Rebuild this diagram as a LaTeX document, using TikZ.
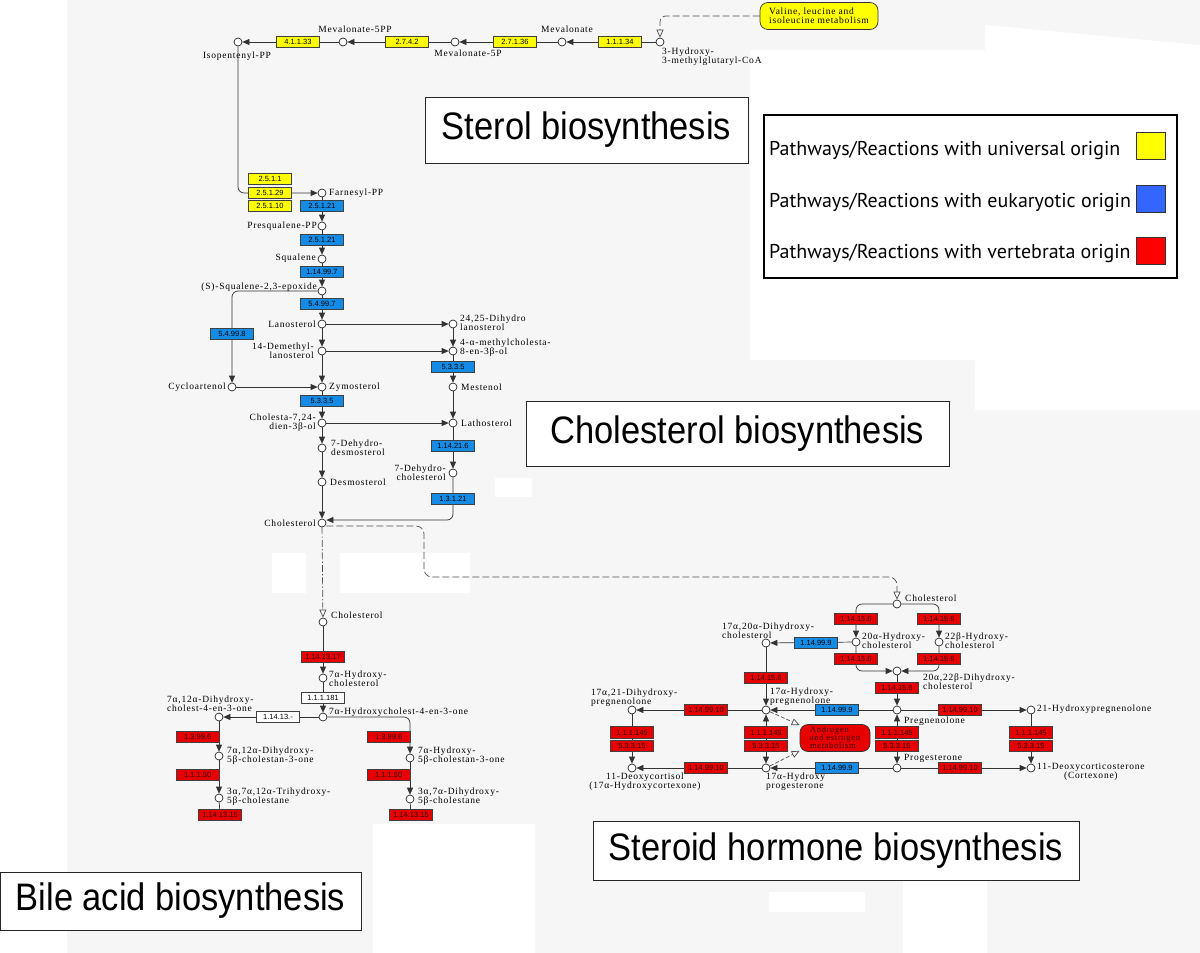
\documentclass[tikz,border=0pt]{standalone}
\usepackage{fontspec}
\setmainfont{Liberation Serif}
\newfontfamily\keggfamily[LetterSpace=8]{Liberation Serif}
\newfontfamily\enzfamily{Liberation Sans}
\newfontfamily\titlefamily[FakeStretch=0.9]{Liberation Sans}
\newfontfamily\legendfamily{PT Sans}
\usetikzlibrary{arrows.meta,backgrounds}

\definecolor{canvas}{RGB}{246,246,246}
\definecolor{univ}{RGB}{255,255,0}
\definecolor{eukbox}{RGB}{20,140,230}
\definecolor{vertred}{RGB}{230,0,0}
\definecolor{eukswatch}{RGB}{51,102,255}
\definecolor{vertswatch}{RGB}{255,0,0}

\newcommand{\keggsize}{\keggfamily\fontsize{9.5}{9}\selectfont}
\newcommand{\enzsize}{\enzfamily\fontsize{7.5}{8}\selectfont}

\tikzset{
  cpd/.style={circle, draw=black!85, fill=white, line width=0.7pt, inner sep=0pt, minimum size=8pt},
  enz/.style={rectangle, draw=black!75, line width=0.6pt, inner sep=0pt,
    minimum width=43pt, minimum height=11.5pt, font=\enzsize},
  uni/.style={enz, fill=univ},
  euk/.style={enz, fill=eukbox},
  vert/.style={enz, fill=vertred, text=black!80!red},
  unk/.style={enz, fill=white},
  lbl/.style={font=\keggsize, inner sep=0pt, align=left},
  rx/.style={draw=black!80, line width=0.7pt, -{Triangle[length=7pt,width=6pt]}},
  rxtwo/.style={rx, {Triangle[length=7pt,width=6pt]}-{Triangle[length=7pt,width=6pt]}},
  plain/.style={draw=black!80, line width=0.7pt},
  maplink/.style={draw=black!70, line width=0.7pt, dash pattern=on 7pt off 3pt,
    -{Triangle[open,length=8pt,width=7pt]}},
  mapbox/.style={rectangle, rounded corners=8pt, draw=black!80, line width=0.7pt,
    align=left, inner sep=2pt},
  ttl/.style={rectangle, draw=black!85, line width=0.9pt, fill=white, inner sep=0pt,
    font=\titlefamily\fontsize{38.3}{40}\selectfont},
  lgd/.style={font=\legendfamily\fontsize{20}{22}\selectfont, inner sep=0pt},
  swatch/.style={rectangle, draw=black!80, line width=0.8pt, minimum width=29pt, minimum height=27pt}
}

\begin{document}
\begin{tikzpicture}[x=1pt,y=-1pt]
\useasboundingbox (0,0) rectangle (1200,953);
\begin{scope}[on background layer]
  \fill[white] (0,0) rectangle (1200,953);
  \fill[canvas] (67,0) rectangle (1200,953);
  \fill[white] (750,50) -- (985,50) -- (985,25) -- (1200,45) -- (1200,410)
    -- (975,410) -- (975,360) -- (750,360) -- cycle;
  \fill[white] (373,824) rectangle (535,953);
  \fill[white] (903,881) rectangle (987,953);
  \fill[white] (769,892) rectangle (865,912);
  \fill[white] (272,553) rectangle (306,593);
  \fill[white] (340,553) rectangle (470,593);
  \fill[white] (495,478) rectangle (532,497);
\end{scope}

% mevalonate row
\node[cpd] (ipp) at (238,42) {};
\node[cpd] (mvpp) at (343,42) {};
\node[cpd] (mvp) at (455,42) {};
\node[cpd] (mev) at (562,42) {};
\node[cpd] (hmg) at (660,42) {};
\node[uni] (e41133) at (298,42) {4.1.1.33};
\node[uni] (e2742) at (407,42) {2.7.4.2};
\node[uni] (e27136) at (515,42) {2.7.1.36};
\node[uni] (e11134) at (620,42) {1.1.1.34};
\node[lbl] (ippl) at (237,56) {Isopentenyl-PP};
\node[lbl] (mvppl) at (355,29) {Mevalonate-5PP};
\node[lbl] (mvpl) at (468,53) {Mevalonate-5P};
\node[lbl] (mevl) at (567,29) {Mevalonate};
\node[lbl, anchor=north west] (hmgl) at (662,48) {3-Hydroxy-\\3-methylglutaryl-CoA};
\node[mapbox, fill=univ, font=\keggsize, minimum width=118pt, minimum height=27pt] (val) at (819,16)
  {Valine, leucine and\\isoleucine metabolism};

% sterol / cholesterol
\node[cpd] (far) at (322,193) {};
\node[cpd] (presq) at (322,226) {};
\node[cpd] (squal) at (322,259) {};
\node[cpd] (epox) at (322,291) {};
\node[cpd] (lano) at (322,324) {};
\node[cpd] (dml) at (322,351) {};
\node[cpd] (zym) at (322,387) {};
\node[cpd] (c724) at (322,423) {};
\node[cpd] (dhd7) at (322,448) {};
\node[cpd] (desmo) at (322,482) {};
\node[cpd] (chol) at (322,523) {};
\node[cpd] (cyc) at (232,387) {};
\node[cpd] (dhl) at (453,324) {};
\node[cpd] (mch) at (453,351) {};
\node[cpd] (mest) at (453,387) {};
\node[cpd] (lath) at (453,423) {};
\node[cpd] (dhc7) at (453,473) {};

\node[uni] (e2511) at (270,179) {2.5.1.1};
\node[uni] (e25129) at (270,193) {2.5.1.29};
\node[uni] (e25110) at (270,206) {2.5.1.10};
\node[euk] (e25121a) at (322,206) {2.5.1.21};
\node[euk] (e25121b) at (322,240) {2.5.1.21};
\node[euk] (e114997) at (322,272) {1.14.99.7};
\node[euk] (e54997) at (322,304) {5.4.99.7};
\node[euk] (e54998) at (232,334) {5.4.99.8};
\node[euk] (e5335a) at (322,401) {5.3.3.5};
\node[euk] (e5335b) at (453,367) {5.3.3.5};
\node[euk] (e114216) at (453,446) {1.14.21.6};
\node[euk] (e13121) at (453,499) {1.3.1.21};

\node[lbl, anchor=west] (farl) at (329,193) {Farnesyl-PP};
\node[lbl, anchor=east] (presql) at (317,226) {Presqualene-PP};
\node[lbl, anchor=east] (squall) at (316,258) {Squalene};
\node[lbl, anchor=east] (epoxl) at (317,287) {(S)-Squalene-2,3-epoxide};
\node[lbl, anchor=east] (lanol) at (316,324) {Lanosterol};
\node[lbl, anchor=east, align=right] (dmll) at (314,351) {14-Demethyl-\\lanosterol};
\node[lbl, anchor=west] (zyml) at (329,387) {Zymosterol};
\node[lbl, anchor=east] (cycl) at (226,387) {Cycloartenol};
\node[lbl, anchor=east, align=right] (c724l) at (316,423) {Cholesta-7,24-\\dien-3β-ol};
\node[lbl, anchor=west] (dhd7l) at (331,448) {7-Dehydro-\\desmosterol};
\node[lbl, anchor=west] (desmol) at (330,482) {Desmosterol};
\node[lbl, anchor=east] (choll) at (316,523) {Cholesterol};
\node[lbl, anchor=west] (dhll) at (460,323) {24,25-Dihydro\\lanosterol};
\node[lbl, anchor=west] (mchl) at (460,348) {4-α-methylcholesta-\\8-en-3β-ol};
\node[lbl, anchor=west] (mestl) at (461,387) {Mestenol};
\node[lbl, anchor=west] (lathl) at (461,423) {Lathosterol};
\node[lbl, anchor=east, align=right] (dhc7l) at (446,473) {7-Dehydro-\\cholesterol};

% bile acid
\node[cpd] (cholB) at (323,622) {};
\node[cpd] (ohc7) at (323,678) {};
\node[cpd] (oh4en) at (323,717) {};
\node[cpd] (dih4en) at (219,717) {};
\node[cpd] (dihone) at (219,756) {};
\node[cpd] (trih) at (219,798) {};
\node[cpd] (ohone) at (410,758) {};
\node[cpd] (dih) at (410,799) {};
\node[vert] (e1141317) at (323,657) {1.14.13.17};
\node[unk] (e111181) at (323,698) {1.1.1.181};
\node[unk] (e11413) at (278,717) {1.14.13.-};
\node[vert, anchor=east] (e13996a) at (219.5,737) {1.3.99.6};
\node[vert, anchor=east] (e11150a) at (219.5,775) {1.1.1.50};
\node[vert] (e1141315a) at (220,815) {1.14.13.15};
\node[vert, anchor=east] (e13996b) at (410.5,737) {1.3.99.6};
\node[vert, anchor=east] (e11150b) at (410.5,775) {1.1.1.50};
\node[vert] (e1141315b) at (411,815) {1.14.13.15};

\node[lbl, anchor=west] (cholBl) at (331,615) {Cholesterol};
\node[lbl, anchor=west] (ohc7l) at (329,679) {7α-Hydroxy-\\cholesterol};
\node[lbl, anchor=west] (oh4enl) at (329,712) {7α-Hydroxycholest-4-en-3-one};
\node[lbl, anchor=west] (dih4enl) at (167,704) {7α,12α-Dihydroxy-\\cholest-4-en-3-one};
\node[lbl, anchor=west] (dihonel) at (227,756) {7α,12α-Dihydroxy-\\5β-cholestan-3-one};
\node[lbl, anchor=west] (trihl) at (227,797) {3α,7α,12α-Trihydroxy-\\5β-cholestane};
\node[lbl, anchor=west] (ohonel) at (418,756) {7α-Hydroxy-\\5β-cholestan-3-one};
\node[lbl, anchor=west] (dihl) at (418,797) {3α,7α-Dihydroxy-\\5β-cholestane};

% steroid hormone
\node[cpd] (cholC) at (897,604) {};
\node[cpd] (ohc20) at (856,642) {};
\node[cpd] (ohc22) at (939,642) {};
\node[cpd] (dhc2022) at (897,671) {};
\node[cpd] (preg) at (897,710) {};
\node[cpd] (prog) at (897,768) {};
\node[cpd] (dhc1720) at (766,643) {};
\node[cpd] (ohpreg) at (766,710) {};
\node[cpd] (ohprog) at (766,768) {};
\node[cpd] (dhp1721) at (632,710) {};
\node[cpd] (doxc) at (632,768) {};
\node[cpd] (ohp21) at (1031,710) {};
\node[cpd] (doc) at (1031,768) {};

\node[vert] (e14156a) at (856,619) {1.14.15.6};
\node[vert] (e14156b) at (939,619) {1.14.15.6};
\node[vert] (e14156c) at (856,659) {1.14.15.6};
\node[vert] (e14156d) at (939,659) {1.14.15.6};
\node[vert] (e14156e) at (897,688) {1.14.15.6};
\node[vert] (e14156f) at (766,678) {1.14.15.6};
\node[euk] (e14999a) at (816,643) {1.14.99.9};
\node[euk] (e14999b) at (837,710) {1.14.99.9};
\node[euk] (e14999c) at (837,768) {1.14.99.9};
\node[vert] (e149910a) at (706,710) {1.14.99.10};
\node[vert] (e149910b) at (706,768) {1.14.99.10};
\node[vert] (e149910c) at (960,710) {1.14.99.10};
\node[vert] (e149910d) at (960,768) {1.14.99.10};
\node[vert] (e111145a) at (632,732.5) {1.1.1.145};
\node[vert] (e53315a) at (632,746) {5.3.3.15};
\node[vert] (e111145b) at (766,732.5) {1.1.1.145};
\node[vert] (e53315b) at (766,746) {5.3.3.15};
\node[vert] (e111145c) at (897,732.5) {1.1.1.145};
\node[vert] (e53315c) at (897,746) {5.3.3.15};
\node[vert] (e111145d) at (1031,732.5) {1.1.1.145};
\node[vert] (e53315d) at (1031,746) {5.3.3.15};
\node[mapbox, fill=vertred, text=black!75!red, font=\keggfamily\fontsize{8.5}{8}\selectfont,
  minimum width=70pt, minimum height=27pt] (andro) at (835,738) {Androgen\\and estrogen\\metabolism};

\node[lbl, anchor=west] (cholCl) at (905,598) {Cholesterol};
\node[lbl, anchor=west] (ohc20l) at (862,641) {20α-Hydroxy-\\cholesterol};
\node[lbl, anchor=west] (ohc22l) at (945,641) {22β-Hydroxy-\\cholesterol};
\node[lbl, anchor=west] (dhc2022l) at (923,682) {20α,22β-Dihydroxy-\\cholesterol};
\node[lbl, anchor=west] (pregl) at (904,721) {Pregnenolone};
\node[lbl, anchor=west] (progl) at (904,758) {Progesterone};
\node[lbl, anchor=west] (ohpregl) at (770,697) {17α-Hydroxy-\\pregnenolone};
\node[lbl, anchor=west] (dhc1720l) at (722,631) {17α,20α-Dihydroxy-\\cholesterol};
\node[lbl, anchor=west] (dhp1721l) at (591,698) {17α,21-Dihydroxy-\\pregnenolone};
\node[lbl, anchor=north, align=center] (doxcl) at (645,773) {11-Deoxycortisol\\(17α-Hydroxycortexone)};
\node[lbl, anchor=north west] (ohprogl) at (766,773) {17α-Hydroxy\\progesterone};
\node[lbl, anchor=west] (ohp21l) at (1037,709) {21-Hydroxypregnenolone};
\node[lbl, anchor=west, align=center] (docl) at (1037,772) {11-Deoxycorticosterone\\(Cortexone)};

% titles and legend
\node[ttl, minimum width=323pt, minimum height=66pt] (sterolt) at (586.5,130) {Sterol biosynthesis};
\node[ttl, minimum width=423pt, minimum height=65pt] (cholt) at (737.5,433.5) {Cholesterol biosynthesis};
\node[ttl, minimum width=486pt, minimum height=59pt] (steroidt) at (836,850.5) {Steroid hormone biosynthesis};
\node[ttl, minimum width=361pt, minimum height=58pt] (bilet) at (180.5,901) {Bile acid biosynthesis};

\node[draw, line width=1.6pt, fill=white, minimum width=413pt, minimum height=163pt] (legend) at (970.5,196.5) {};
\node[lgd, anchor=base west] (lgu) at (769,155) {Pathways/Reactions with universal origin};
\node[lgd, anchor=base west] (lge) at (769,207) {Pathways/Reactions with eukaryotic origin};
\node[lgd, anchor=base west] (lgv) at (769,258) {Pathways/Reactions with vertebrata origin};
\node[swatch, fill=univ] (swu) at (1151,146) {};
\node[swatch, fill=eukswatch] (swe) at (1151,199) {};
\node[swatch, fill=vertswatch] (swv) at (1151,251) {};

\begin{scope}[on background layer]
  \draw[rx] (hmg) -- (mev);
  \draw[rx] (mev) -- (mvp);
  \draw[rx] (mvp) -- (mvpp);
  \draw[rx] (mvpp) -- (ipp);
  \draw[rx, rounded corners=6pt] (ipp) |- (far);
  \draw[maplink, rounded corners=6pt] (val.west) -| (hmg);
  \draw[rx] (far) -- (presq);
  \draw[rx] (presq) -- (squal);
  \draw[rx] (squal) -- (epox);
  \draw[rx] (epox) -- (lano);
  \draw[rx] (lano) -- (dml);
  \draw[rx] (dml) -- (zym);
  \draw[rx] (zym) -- (c724);
  \draw[rx] (c724) -- (dhd7);
  \draw[rx] (dhd7) -- (desmo);
  \draw[rx] (desmo) -- (chol);
  \draw[rx, rounded corners=6pt] (epox) -| (cyc);
  \draw[rx] (cyc) -- (zym);
  \draw[rx] (lano) -- (dhl);
  \draw[rx] (dml) -- (mch);
  \draw[rx] (dhl) -- (mch);
  \draw[rx] (mch) -- (mest);
  \draw[rx] (mest) -- (lath);
  \draw[rx] (c724) -- (lath);
  \draw[rx] (lath) -- (dhc7);
  \draw[rx, rounded corners=6pt] (dhc7) |- ([yshift=3pt]chol.east);
  \coordinate (bend) at (424,577);
  \draw[maplink, rounded corners=8pt] ([yshift=-3pt]chol.east) -| (bend) -| (cholC);
  \draw[maplink, dash pattern=on 7pt off 2pt on 1.5pt off 2pt] (chol) -- (cholB);

  \draw[rx] (cholB) -- (ohc7);
  \draw[rx] (ohc7) -- (oh4en);
  \draw[rx] (oh4en) -- (dih4en);
  \draw[rx] (dih4en) -- (dihone);
  \draw[rx] (dihone) -- (trih);
  \draw[plain] (trih) -- (e1141315a);
  \draw[rx, rounded corners=6pt] (oh4en) -| (ohone);
  \draw[rx] (ohone) -- (dih);
  \draw[plain] (dih) -- (e1141315b);

  \draw[rx, rounded corners=6pt] (cholC) -| (ohc20);
  \draw[rx, rounded corners=6pt] (cholC) -| (ohc22);
  \draw[rx, rounded corners=6pt] (ohc20) |- (dhc2022);
  \draw[rx, rounded corners=6pt] (ohc22) |- (dhc2022);
  \draw[rx] (dhc2022) -- (preg);
  \draw[rx] (ohc20) -- (dhc1720);
  \draw[rx] (dhc1720) -- (ohpreg);
  \draw[rx] (preg) -- (ohpreg);
  \draw[rx] (ohpreg) -- (dhp1721);
  \draw[rx] (dhp1721) -- (doxc);
  \draw[rxtwo] (preg) -- (prog);
  \draw[rxtwo] (ohpreg) -- (ohprog);
  \draw[rx] (prog) -- (ohprog);
  \draw[rx] (ohprog) -- (doxc);
  \draw[rx] (preg) -- (ohp21);
  \draw[rx] (ohp21) -- (doc);
  \draw[rx] (prog) -- (doc);
  \draw[maplink, dash pattern=on 4pt off 2pt] (ohpreg) -- (andro.160);
  \draw[maplink, dash pattern=on 4pt off 2pt] (ohprog) -- (andro.200);
\end{scope}
\end{tikzpicture}
\end{document}
